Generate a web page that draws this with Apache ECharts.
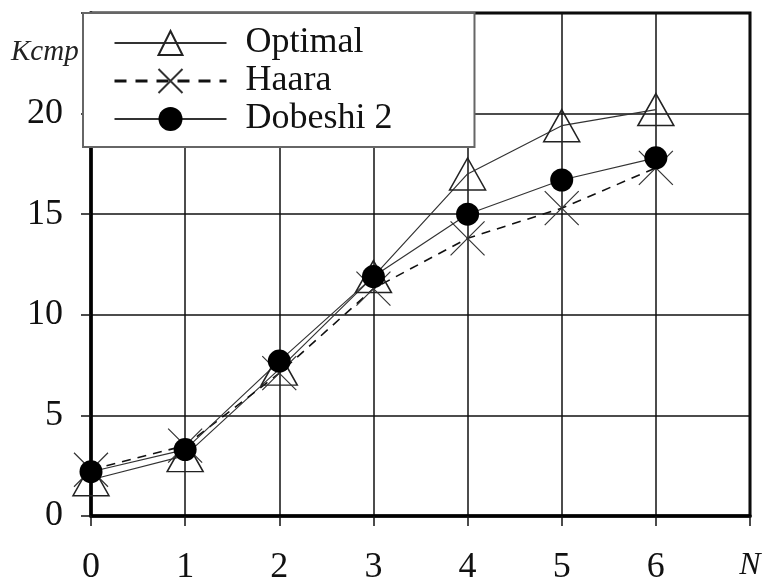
<!DOCTYPE html>
<html><head><meta charset="utf-8">
<script src="https://cdn.jsdelivr.net/npm/echarts@6/dist/echarts.min.js"></script>
<style>html,body{margin:0;padding:0;background:#fff}#c{width:767px;height:579px}</style>
</head><body><div id="c"></div>
<script>
var xValues = [0, 1, 2, 3, 4, 5, 6];
var optimal = [1.8, 3.0, 7.3, 11.9, 17.0, 19.4, 20.2];
var haara = [2.3, 3.5, 7.1, 11.3, 13.8, 15.3, 17.3];
var dobeshi = [2.2, 3.3, 7.7, 11.9, 15.0, 16.7, 17.8];
var seriesNames = ['Optimal', 'Haara', 'Dobeshi 2'];
var yName = 'Kcmp';
var xName = 'N';

function pairs(arr) { return xValues.map(function (x, i) { return [x, arr[i]]; }); }
var serif = '"Liberation Serif","DejaVu Serif",serif';
var xPath = 'path://M0,0L10,10M10,0L0,10';

var chart = echarts.init(document.getElementById('c'));
chart.setOption({
  animation: false,
  backgroundColor: '#fff',
  grid: { left: 91, right: 17, top: 13, bottom: 63, containLabel: false, outerBoundsMode: 'none', show: true, borderColor: '#000', borderWidth: 3, backgroundColor: 'transparent' },
  xAxis: {
    type: 'value', min: 0, max: 7, interval: 1,
    axisLine: { lineStyle: { color: '#000', width: 3.5 } },
    axisTick: { show: true, inside: false, length: 10, lineStyle: { color: '#111', width: 1.5 } },
    splitLine: { show: true, lineStyle: { color: '#111', width: 1.5 } },
    axisLabel: {
      margin: 34, fontSize: 36, fontFamily: serif, color: '#111',
      formatter: function (v) { return v === 7 ? '{n|' + xName + '}' : String(v); },
      rich: { n: { fontStyle: 'italic', fontSize: 32, fontFamily: serif, color: '#111' } }
    }
  },
  yAxis: {
    type: 'value', min: 0, max: 25, interval: 5,
    axisLine: { show: true, lineStyle: { color: '#000', width: 3.5 } },
    axisTick: { show: true, inside: false, length: 10, lineStyle: { color: '#111', width: 1.5 } },
    splitLine: { show: true, lineStyle: { color: '#111', width: 1.5 } },
    axisLabel: {
      margin: 28, fontSize: 36, fontFamily: serif, color: '#111',
      formatter: function (v) { return v === 25 ? '' : String(v); }
    }
  },
  graphic: [{
    type: 'text', left: 11, top: 38,
    style: { text: yName, font: 'italic 29px ' + serif, fill: '#222' }
  }],
  legend: {
    orient: 'vertical', left: 83, top: 13,
    backgroundColor: '#fff', borderColor: '#666', borderWidth: 2,
    padding: [12, 82, 10, 30],
    itemWidth: 112, itemHeight: 30, itemGap: 2,
    textStyle: { fontSize: 36, fontFamily: serif, color: '#111', lineHeight: 33, padding: [0, 0, 0, 14] },
    data: [
      { name: seriesNames[0] },
      { name: seriesNames[1], lineStyle: { width: 3, type: [12, 9] } },
      { name: seriesNames[2] }
    ]
  },
  series: [
    {
      name: seriesNames[0], type: 'line', data: pairs(optimal),
      symbol: 'triangle', symbolSize: [36, 32],
      lineStyle: { color: '#333', width: 1.2 },
      itemStyle: { color: 'transparent', borderColor: '#222', borderWidth: 1.5 }
    },
    {
      name: seriesNames[1], type: 'line', data: pairs(haara),
      symbol: xPath, symbolSize: 34,
      lineStyle: { color: '#111', width: 1.6, type: [9, 7] },
      itemStyle: { color: 'transparent', borderColor: '#333', borderWidth: 1.2 }
    },
    {
      name: seriesNames[2], type: 'line', data: pairs(dobeshi),
      symbol: 'circle', symbolSize: 23,
      lineStyle: { color: '#333', width: 1.2 },
      itemStyle: { color: '#000', borderColor: '#000', borderWidth: 0 }
    }
  ]
});
</script></body></html>
